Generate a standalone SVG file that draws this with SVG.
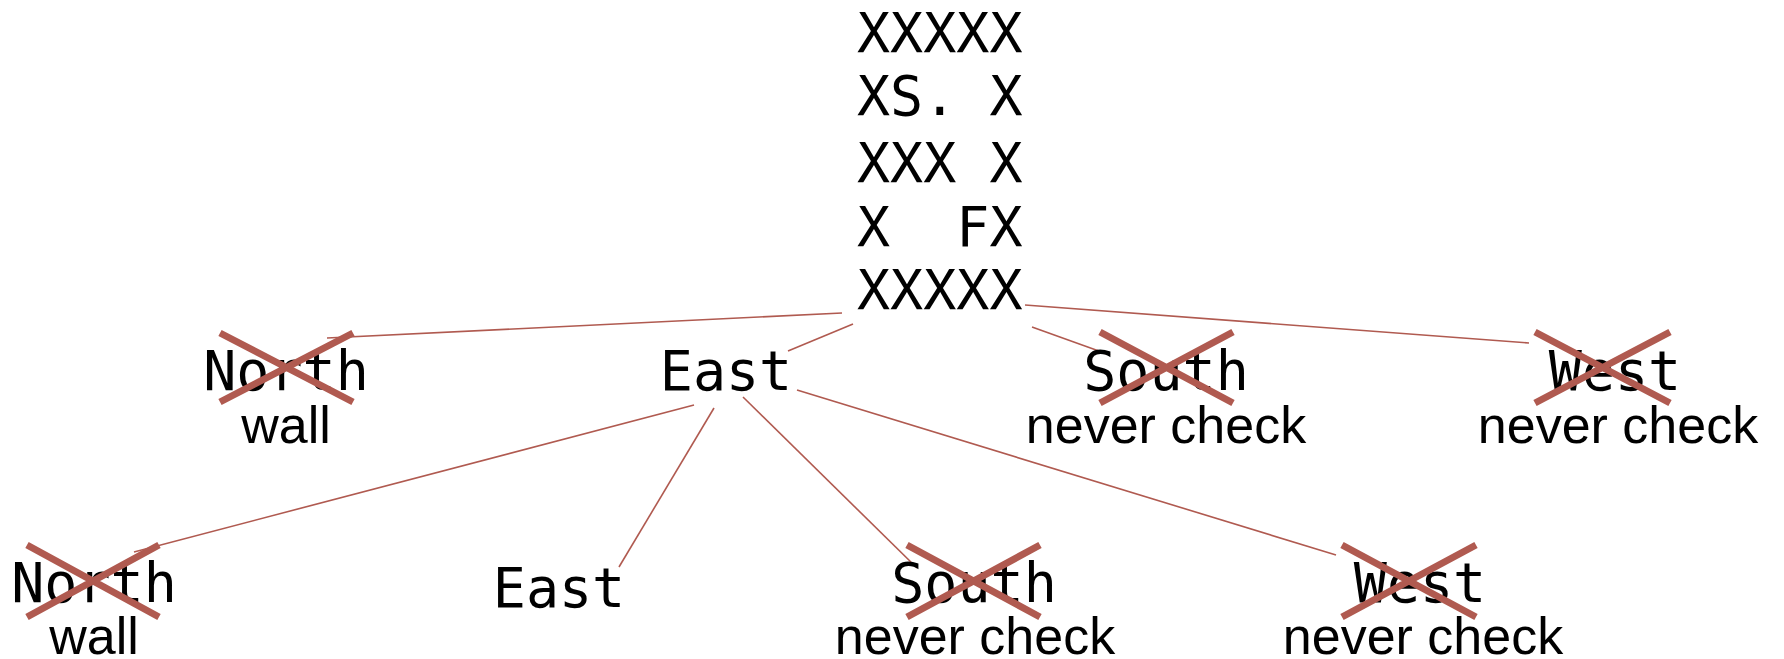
<svg xmlns="http://www.w3.org/2000/svg" width="1784" height="659" viewBox="0 0 1784 659">
<style>
.mono{font-family:"DejaVu Sans Mono","Liberation Mono",monospace;font-size:55px;fill:#000;white-space:pre}
.lbl{font-family:"Liberation Sans",Arial,sans-serif;font-size:52px;fill:#000;text-anchor:middle}
.c{text-anchor:middle}
.edge{stroke:#b05a50;stroke-width:1.6;fill:none}
.x{stroke:#b05a50;stroke-width:7;fill:none}
</style>
<rect width="1784" height="659" fill="#fff"/>
<g id="connectors">
<line class="edge" x1="842" y1="313" x2="327" y2="338"/>
<line class="edge" x1="853" y1="324" x2="788" y2="351"/>
<line class="edge" x1="1032" y1="327" x2="1110" y2="355"/>
<line class="edge" x1="1025" y1="305" x2="1529" y2="343"/>
<line class="edge" x1="694" y1="405" x2="134" y2="552"/>
<line class="edge" x1="714" y1="408" x2="619" y2="567"/>
<line class="edge" x1="743" y1="397" x2="917" y2="568"/>
<line class="edge" x1="797" y1="390" x2="1336" y2="555"/>
</g>
<g id="maze">
<text class="mono" x="857" y="52" xml:space="preserve">XXXXX</text>
<text class="mono" x="857" y="115" xml:space="preserve">XS. X</text>
<text class="mono" x="857" y="182" xml:space="preserve">XXX X</text>
<text class="mono" x="857" y="246" xml:space="preserve">X  FX</text>
<text class="mono" x="857" y="309" xml:space="preserve">XXXXX</text>
</g>
<g id="north1">
<text class="mono c" x="286" y="390">North</text>
<text class="lbl" x="286" y="443">wall</text>
<path class="x" d="M220 333L353 402M220 402L353 333"/>
</g>
<g id="east1">
<text class="mono c" x="726" y="390">East</text>
</g>
<g id="south1">
<text class="mono c" x="1166" y="390">South</text>
<text class="lbl" x="1166" y="443">never check</text>
<path class="x" d="M1100 332L1233 403M1100 403L1233 332"/>
</g>
<g id="west1">
<text class="mono c" x="1615" y="390">West</text>
<text class="lbl" x="1618" y="443">never check</text>
<path class="x" d="M1535 332L1670 403M1535 403L1670 332"/>
</g>
<g id="north2">
<text class="mono c" x="94" y="602">North</text>
<text class="lbl" x="94" y="654">wall</text>
<path class="x" d="M27 545L159 617M27 617L159 545"/>
</g>
<g id="east2">
<text class="mono c" x="559" y="607">East</text>
</g>
<g id="south2">
<text class="mono c" x="974" y="602">South</text>
<text class="lbl" x="975" y="654">never check</text>
<path class="x" d="M907 545L1040 617M907 617L1040 545"/>
</g>
<g id="west2">
<text class="mono c" x="1420" y="602">West</text>
<text class="lbl" x="1423" y="654">never check</text>
<path class="x" d="M1342 545L1476 617M1342 617L1476 545"/>
</g>
</svg>
